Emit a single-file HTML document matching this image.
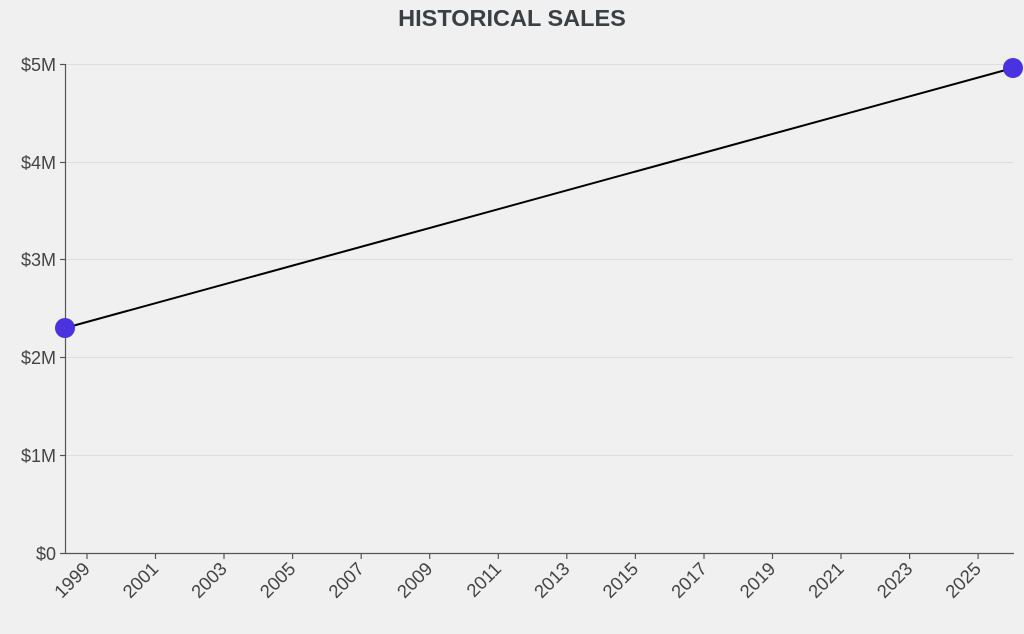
<!DOCTYPE html>
<html><head><style>
html,body{margin:0;padding:0;background:#f0f0f0;}
svg{display:block;font-family:"Liberation Sans",sans-serif;}
</style></head><body>
<svg width="1024" height="634" viewBox="0 0 1024 634">
<text x="512" y="26" text-anchor="middle" font-size="23.5" font-weight="bold" fill="#3a3f44">HISTORICAL SALES</text>
<g stroke="#dedede" stroke-width="1">
<line x1="66" y1="64.5" x2="1013" y2="64.5"/>
<line x1="66" y1="162.5" x2="1013" y2="162.5"/>
<line x1="66" y1="259.5" x2="1013" y2="259.5"/>
<line x1="66" y1="357.5" x2="1013" y2="357.5"/>
<line x1="66" y1="455.5" x2="1013" y2="455.5"/>
</g>
<g stroke="#555" stroke-width="1.2">
<line x1="65.5" y1="64" x2="65.5" y2="553"/>
<line x1="65" y1="553.5" x2="1014" y2="553.5"/>
<line x1="60" y1="64.5" x2="65" y2="64.5"/>
<line x1="60" y1="162.5" x2="65" y2="162.5"/>
<line x1="60" y1="259.5" x2="65" y2="259.5"/>
<line x1="60" y1="357.5" x2="65" y2="357.5"/>
<line x1="60" y1="455.5" x2="65" y2="455.5"/>
<line x1="60" y1="553.5" x2="65" y2="553.5"/>
</g>
<g font-size="18" fill="#444" text-anchor="end">
<text x="56" y="71">$5M</text>
<text x="56" y="169">$4M</text>
<text x="56" y="266">$3M</text>
<text x="56" y="364">$2M</text>
<text x="56" y="462">$1M</text>
<text x="56" y="560">$0</text>
</g>
<g stroke="#555" stroke-width="1.2">
<line x1="87" y1="553" x2="87" y2="559"/>
<line x1="155.5" y1="553" x2="155.5" y2="559"/>
<line x1="224" y1="553" x2="224" y2="559"/>
<line x1="292.6" y1="553" x2="292.6" y2="559"/>
<line x1="361.2" y1="553" x2="361.2" y2="559"/>
<line x1="429.7" y1="553" x2="429.7" y2="559"/>
<line x1="498.3" y1="553" x2="498.3" y2="559"/>
<line x1="566.8" y1="553" x2="566.8" y2="559"/>
<line x1="635.4" y1="553" x2="635.4" y2="559"/>
<line x1="704" y1="553" x2="704" y2="559"/>
<line x1="772.5" y1="553" x2="772.5" y2="559"/>
<line x1="841" y1="553" x2="841" y2="559"/>
<line x1="909.6" y1="553" x2="909.6" y2="559"/>
<line x1="978.1" y1="553" x2="978.1" y2="559"/>
</g>
<g font-size="18.5" fill="#444" text-anchor="end">
<text transform="translate(91,570) rotate(-45)">1999</text>
<text transform="translate(159.5,570) rotate(-45)">2001</text>
<text transform="translate(228,570) rotate(-45)">2003</text>
<text transform="translate(296.6,570) rotate(-45)">2005</text>
<text transform="translate(365.2,570) rotate(-45)">2007</text>
<text transform="translate(433.7,570) rotate(-45)">2009</text>
<text transform="translate(502.3,570) rotate(-45)">2011</text>
<text transform="translate(570.8,570) rotate(-45)">2013</text>
<text transform="translate(639.4,570) rotate(-45)">2015</text>
<text transform="translate(708,570) rotate(-45)">2017</text>
<text transform="translate(776.5,570) rotate(-45)">2019</text>
<text transform="translate(845,570) rotate(-45)">2021</text>
<text transform="translate(913.6,570) rotate(-45)">2023</text>
<text transform="translate(982.1,570) rotate(-45)">2025</text>
</g>
<line x1="65" y1="328" x2="1013" y2="68" stroke="#000" stroke-width="2"/>
<circle cx="65" cy="328" r="10" fill="#4a32e0"/>
<circle cx="1013" cy="68" r="10" fill="#4a32e0"/>
</svg>
</body></html>
